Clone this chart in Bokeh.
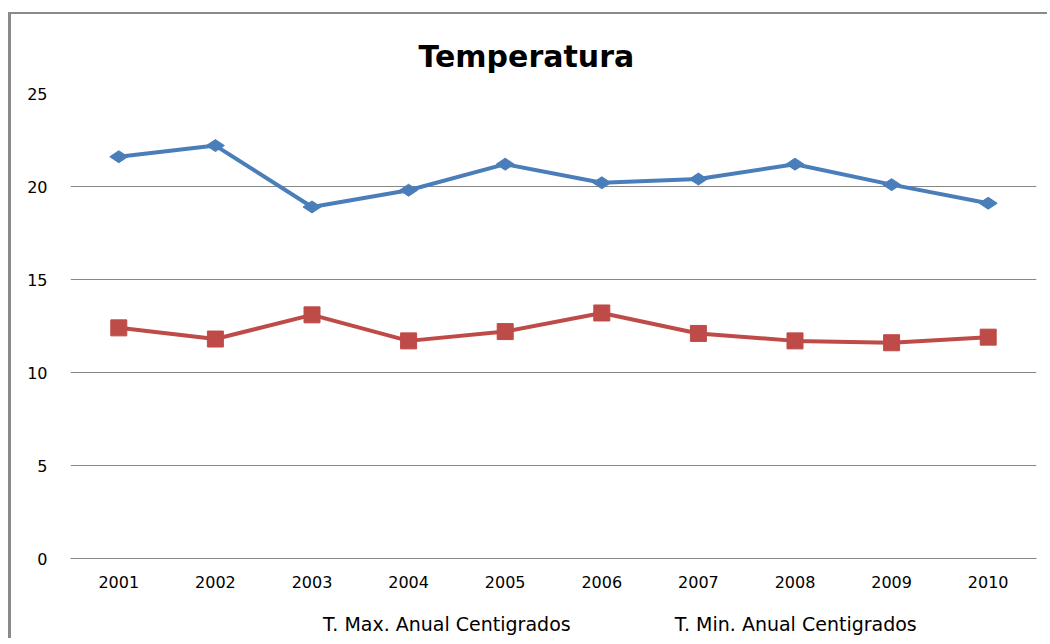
import math
from bokeh.plotting import figure
from bokeh.layouts import column
from bokeh.models import Legend, LegendItem, Range1d, FixedTicker
from bokeh.embed import file_html
from bokeh.resources import INLINE

years = ["2001", "2002", "2003", "2004", "2005", "2006", "2007", "2008", "2009", "2010"]
t_max = [21.6, 22.2, 18.9, 19.8, 21.2, 20.2, 20.4, 21.2, 20.1, 19.1]
t_min = [12.4, 11.8, 13.1, 11.7, 12.2, 13.2, 12.1, 11.7, 11.6, 11.9]
y_ticks = [0, 5, 10, 15, 20, 25]
label_max = "T. Max. Anual Centigrados"
label_min = "T. Min. Anual Centigrados"
title_text = "Temperatura"

BLUE = "#4a7ebb"
RED = "#be4b48"
GRID = "#868686"
FONT = "DejaVu Sans"

p = figure(
    x_range=years, y_range=Range1d(0, 25),
    frame_width=966, frame_height=465,
    output_backend="svg", toolbar_location=None,
    min_border_left=59, min_border_right=11, min_border_top=79, min_border_bottom=40,
)

p.title.text = title_text
p.title.text_font = FONT
p.title.text_font_size = "30px"
p.title.text_font_style = "bold"
p.title.text_color = "#000000"
p.title.align = "left"
p.title.offset = 348
p.title.standoff = 40

p.outline_line_color = None
p.background_fill_color = "white"
p.border_fill_color = "white"

p.xgrid.grid_line_color = None
p.ygrid.grid_line_color = GRID
p.ygrid.grid_line_width = 1
p.yaxis.ticker = FixedTicker(ticks=y_ticks)

p.yaxis.axis_line_color = None
p.yaxis.major_tick_line_color = None
p.yaxis.minor_tick_line_color = None
p.yaxis.major_label_standoff = 17
p.yaxis.major_label_text_font = FONT
p.yaxis.major_label_text_font_size = "16px"
p.yaxis.major_label_text_color = "#000000"

p.xaxis.axis_line_color = GRID
p.xaxis.major_tick_line_color = None
p.xaxis.minor_tick_line_color = None
p.xaxis.major_label_standoff = 11
p.xaxis.major_label_text_font = FONT
p.xaxis.major_label_text_font_size = "16px"
p.xaxis.major_label_text_color = "#000000"

p.line(years, t_max, line_color=BLUE, line_width=4)
p.scatter(years, t_max, marker="diamond", size=18, angle=math.pi / 2,
          fill_color=BLUE, line_color=BLUE)
p.line(years, t_min, line_color=RED, line_width=4)
p.scatter(years, t_min, marker="square", size=16, fill_color=RED, line_color=RED)

# legend strip below the chart
leg = figure(
    width=1036, height=40, x_range=Range1d(0, 1), y_range=Range1d(0, 1),
    output_backend="svg", toolbar_location=None,
    min_border=0, min_border_left=0, min_border_right=0,
    min_border_top=0, min_border_bottom=0,
)
leg.axis.visible = False
leg.grid.visible = False
leg.outline_line_color = None
leg.background_fill_color = "white"
leg.border_fill_color = "white"

g1 = leg.line([], [], line_color=BLUE, line_width=4)
g1s = leg.scatter([], [], marker="diamond", size=13, angle=math.pi / 2,
                  fill_color=BLUE, line_color=BLUE)
g2 = leg.line([], [], line_color=RED, line_width=4)
g2s = leg.scatter([], [], marker="square", size=15, fill_color=RED, line_color=RED)

legend = Legend(
    items=[LegendItem(label=label_max, renderers=[g1, g1s]),
           LegendItem(label=label_min, renderers=[g2, g2s])],
    orientation="horizontal", location=(201, 3),
    label_text_font=FONT, label_text_font_size="19px", label_text_color="#000000",
    glyph_width=48, glyph_height=20, label_standoff=4, spacing=52,
    border_line_color=None, background_fill_alpha=0,
    padding=0, margin=0,
)
leg.add_layout(legend)

layout = column(p, leg, spacing=0)
layout.styles = {"border-left": "3px solid #8a8a8a", "border-top": "2px solid #8a8a8a",
                 "margin-left": "8px", "margin-top": "12px"}

open("out.html", "w").write(file_html(layout, INLINE))
